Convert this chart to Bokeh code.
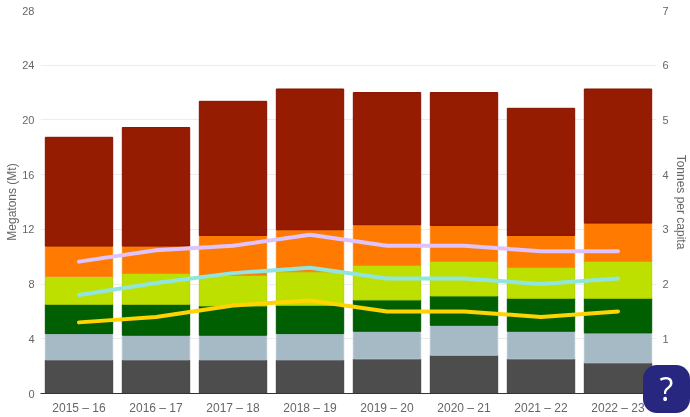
from bokeh.plotting import figure
from bokeh.models import Range1d, FactorRange, LinearAxis, FixedTicker, Div
from bokeh.layouts import column
from bokeh.embed import file_html
from bokeh.resources import INLINE

years = ["2015 – 16", "2016 – 17", "2017 – 18", "2018 – 19", "2019 – 20", "2020 – 21", "2021 – 22", "2022 – 23"]
# cumulative stack tops, Mt
grey_top = [2.46, 2.46, 2.46, 2.46, 2.53, 2.80, 2.53, 2.24]
blue_top = [4.38, 4.26, 4.26, 4.38, 4.55, 4.99, 4.55, 4.43]
green_top = [6.52, 6.52, 6.40, 6.45, 6.84, 7.13, 6.96, 6.96]
lime_top = [8.56, 8.78, 8.64, 8.90, 9.37, 9.66, 9.22, 9.66]
orange_top = [10.78, 10.78, 11.56, 11.97, 12.34, 12.29, 11.56, 12.46]
red_top = [18.73, 19.44, 21.36, 22.26, 22.00, 22.00, 20.85, 22.26]
# tonnes per capita
purple_line = [2.41, 2.62, 2.70, 2.90, 2.70, 2.70, 2.60, 2.60]
cyan_line = [1.80, 2.02, 2.20, 2.30, 2.10, 2.10, 2.00, 2.10]
yellow_line = [1.30, 1.40, 1.61, 1.70, 1.50, 1.50, 1.40, 1.50]

left_ticks = [0, 4, 8, 12, 16, 20, 24, 28]
right_ticks = [0, 1, 2, 3, 4, 5, 6, 7]
FONT = "Liberation Sans"
TXT = "#666666"

p = figure(width=690, height=417, output_backend="svg", toolbar_location=None, margin=0,
           styles={"position": "fixed", "left": "0px", "top": "0px"},
           x_range=FactorRange(factors=years, range_padding=0, factor_padding=0, group_padding=0),
           y_range=Range1d(0, 28), min_border_left=40, min_border_right=33,
           min_border_top=10, min_border_bottom=23)
p.extra_y_ranges = {"cap": Range1d(0, 7)}
p.outline_line_color = None
p.background_fill_color = "white"
p.xgrid.visible = False
p.ygrid.grid_line_color = "#ececec"
p.ygrid.grid_line_width = 1.2
p.ygrid.ticker = FixedTicker(ticks=left_ticks)

ax = p.yaxis[0]
ax.ticker = FixedTicker(ticks=left_ticks)
ax.axis_line_color = None
ax.major_tick_line_color = None
ax.minor_tick_line_color = None
ax.major_tick_out = 0
ax.major_tick_in = 0
ax.major_label_text_font = FONT
ax.major_label_text_font_size = "11px"
ax.major_label_text_color = TXT
ax.major_label_standoff = 6
ax.axis_label = "Megatons (Mt)"
ax.axis_label_text_font = FONT
ax.axis_label_text_font_size = "12px"
ax.axis_label_text_font_style = "normal"
ax.axis_label_text_color = TXT
ax.axis_label_standoff = 0

bx = p.xaxis[0]
bx.axis_line_color = "#333333"
bx.axis_line_width = 1.2
bx.major_tick_line_color = None
bx.minor_tick_line_color = None
bx.major_tick_out = 0
bx.major_tick_in = 0
bx.major_label_text_font = FONT
bx.major_label_text_font_size = "12px"
bx.major_label_text_color = TXT
bx.major_label_standoff = 7

rx = LinearAxis(y_range_name="cap", ticker=FixedTicker(ticks=right_ticks))
rx.axis_line_color = None
rx.major_tick_line_color = None
rx.minor_tick_line_color = None
rx.major_tick_out = 0
rx.major_tick_in = 0
rx.major_label_text_font = FONT
rx.major_label_text_font_size = "11px"
rx.major_label_text_color = TXT
rx.major_label_standoff = 6
rx.axis_label = "Tonnes per capita"
rx.axis_label_text_font = FONT
rx.axis_label_text_font_size = "12px"
rx.axis_label_text_font_style = "normal"
rx.axis_label_text_color = TXT
rx.axis_label_standoff = 2
p.add_layout(rx, "right")

stacks = [
    ([0] * 8, grey_top, "#4d4d4d", "#3f3f3f"),
    (grey_top, blue_top, "#a5bac5", "#b4c6d0"),
    (blue_top, green_top, "#005f00", "#005500"),
    (green_top, lime_top, "#bde000", "#b0d400"),
    (lime_top, orange_top, "#ff7a00", "#f58a20"),
    (orange_top, red_top, "#951c00", "#860f00"),
]
for b, t, c, lc in stacks:
    p.vbar(x=years, bottom=b, top=t, width=0.875, fill_color=c, line_color=lc, line_width=1)

for vals, c in [(purple_line, "#e0c3fc"), (cyan_line, "#90e6df"), (yellow_line, "#ffd400")]:
    p.line(x=years, y=vals, y_range_name="cap", line_color=c, line_width=4, line_cap="round", line_join="round")

help_btn = Div(text="?", width=47, height=48, margin=0,
               styles={"position": "fixed", "left": "643px", "top": "365px", "background": "#27277f",
                       "border-radius": "14px", "color": "white", "font-family": "Open Sans",
                       "font-size": "32px", "line-height": "48px", "text-align": "center", "z-index": "10"})

open("out.html", "w").write(file_html(column(p, help_btn, spacing=0), INLINE))
